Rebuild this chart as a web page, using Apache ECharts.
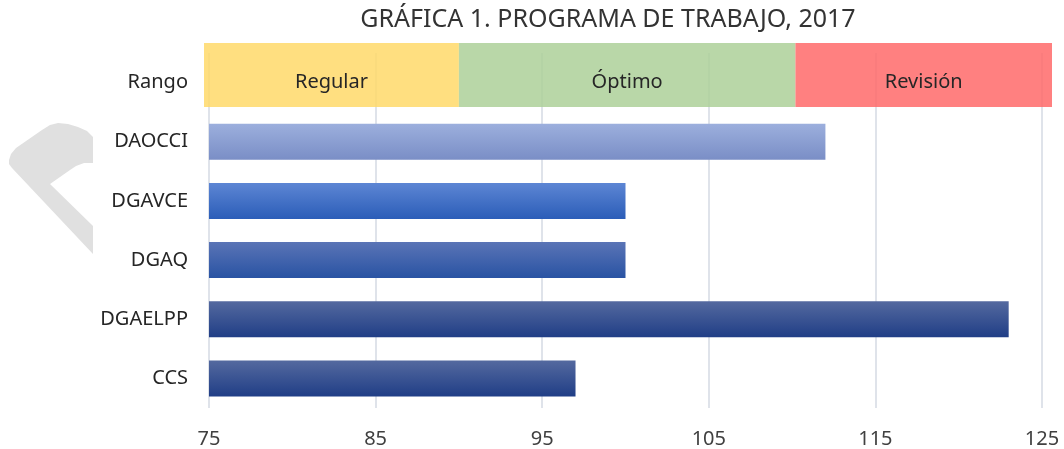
<!DOCTYPE html>
<html>
<head>
<meta charset="utf-8">
<script src="https://cdn.jsdelivr.net/npm/echarts@6/dist/echarts.min.js"></script>
<style>
html,body{margin:0;padding:0;background:#fff;}
#chart{width:1064px;height:449px;}
</style>
</head>
<body>
<div id="chart"></div>
<script>
// ---- data ----
const titleText = 'GRÁFICA 1. PROGRAMA DE TRABAJO, 2017';
const categories = ['Rango', 'DAOCCI', 'DGAVCE', 'DGAQ', 'DGAELPP', 'CCS'];
const values = [null, 112, 100, 100, 123, 97];
const rangeNames = ['Regular', 'Óptimo', 'Revisión'];
const rangeEnds = [90, 110.2, 125.6];   // upper bound of each range band
const rangeStart = 74.7;
const xTicks = { min: 75, max: 125, interval: 10 };

// ---- styles ----
const FONT = '"Noto Sans", Lato, sans-serif';
const barGradients = [
  null,
  ['#9cafdd', '#7a8ec6'],
  ['#5d86d4', '#2b5db8'],
  ['#5a74b6', '#2953a3'],
  ['#54699f', '#203e86'],
  ['#54699f', '#203e86']
];
const rangeColors = ['rgba(255,217,106,0.85)', 'rgba(173,208,153,0.85)', 'rgba(255,106,106,0.85)'];

function grad(c) {
  return {
    type: 'linear', x: 0, y: 0, x2: 0, y2: 1,
    colorStops: [{ offset: 0, color: c[0] }, { offset: 1, color: c[1] }]
  };
}

const mainData = values.map((v, i) => v == null ? '-' : ({
  value: v, itemStyle: { color: grad(barGradients[i]) }
}));

// stacked increments derived from the range bounds
const rangeSeries = rangeNames.map((name, i) => ({
  name: name,
  type: 'bar',
  xAxisIndex: 1,
  yAxisIndex: 1,
  stack: 'rango',
  barWidth: '100%',
  data: [i === 0 ? rangeEnds[0] : +(rangeEnds[i] - rangeEnds[i - 1]).toFixed(2)],
  itemStyle: { color: rangeColors[i] },
  label: {
    show: true, position: 'inside', formatter: name,
    color: '#262626', fontFamily: FONT, fontSize: 20, offset: [0, 7]
  },
  silent: true
}));

const chart = echarts.init(document.getElementById('chart'), null, { renderer: 'canvas' });
chart.setOption({
  animation: false,
  backgroundColor: '#ffffff',
  title: {
    text: titleText,
    left: 603, top: 2, textAlign: 'center',
    textStyle: { fontFamily: FONT, fontSize: 25, fontWeight: 'normal', color: '#333333' }
  },
  graphic: [{
    type: 'polygon', z: -10, silent: true,
    shape: { points: [[9,160],[11,154],[16,148],[42,130],[50,125],[58,123],[68,124],[78,127],[87,131],[93,137],[93,163],[84,163],[76,166],[70,170],[50,184],[93,226],[93,254],[12,168],[9,164]] },
    style: { fill: '#e0e0e0' }
  }],
  grid: [
    { left: 209, right: 22, top: 53, bottom: 40, containLabel: false },
    { left: 204, right: 12, top: 43, height: 64, containLabel: false }
  ],
  xAxis: [{
    type: 'value', gridIndex: 0,
    min: xTicks.min, max: xTicks.max, interval: xTicks.interval,
    axisLine: { show: false }, axisTick: { show: false },
    axisLabel: { color: '#404040', fontFamily: FONT, fontSize: 20, margin: 21 },
    splitLine: { show: true, lineStyle: { color: '#dfe3ea', width: 2 } }
  }, {
    type: 'value', gridIndex: 1, min: rangeStart, max: rangeEnds[2], show: false
  }],
  yAxis: [{
    type: 'category', gridIndex: 0, data: categories, inverse: true,
    axisLine: { show: false }, axisTick: { show: false },
    axisLabel: { color: '#262626', fontFamily: FONT, fontSize: 20, margin: 21 }
  }, {
    type: 'category', gridIndex: 1, data: ['Rango'], show: false
  }],
  series: [{
    type: 'bar', xAxisIndex: 0, yAxisIndex: 0,
    barWidth: 36, data: mainData, silent: true
  }].concat(rangeSeries)
});
</script>
</body>
</html>
